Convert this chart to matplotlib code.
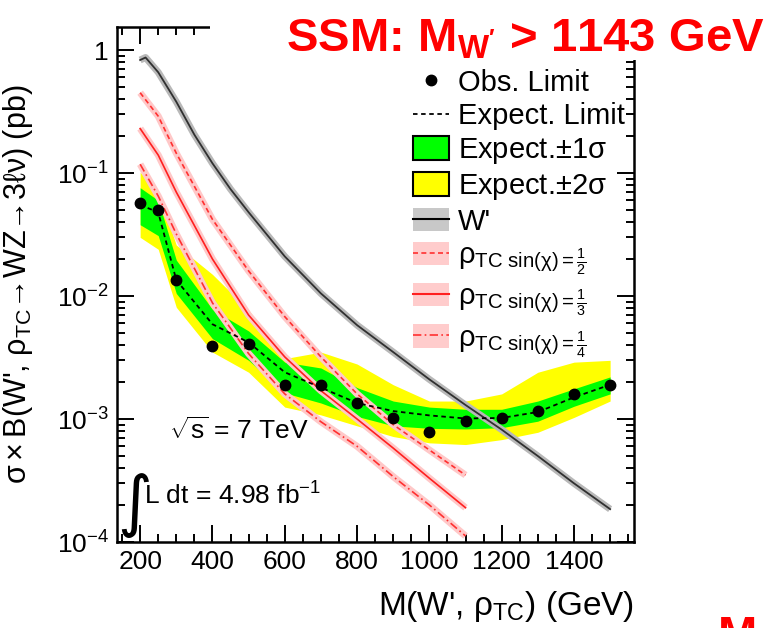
import numpy as np
import matplotlib
matplotlib.use('Agg')
import matplotlib.pyplot as plt
from matplotlib.lines import Line2D
from matplotlib.patches import Patch, Rectangle
from matplotlib.ticker import FixedLocator, MultipleLocator, NullFormatter, LogLocator

plt.rcParams['font.family'] = ['Liberation Sans', 'DejaVu Sans']
plt.rcParams['mathtext.fontset'] = 'custom'
plt.rcParams['mathtext.rm'] = 'Liberation Sans'
plt.rcParams['mathtext.it'] = 'Liberation Sans:italic'
plt.rcParams['mathtext.bf'] = 'Liberation Sans:bold'
plt.rcParams['mathtext.default'] = 'regular'

# 观测/期望上限 (pb)
mass = [200, 250, 300, 400, 500, 600, 700, 800, 900, 1000, 1100, 1200, 1300, 1400, 1500]
obs_limit = [0.057, 0.050, 0.0135, 0.0039, 0.0041, 0.0019, 0.0019, 0.00135, 0.00102,
             0.00078, 0.00097, 0.00102, 0.00116, 0.0016, 0.0019]
exp_limit = [0.055, 0.048, 0.0135, 0.0059, 0.0042, 0.0024, 0.0018, 0.00135, 0.00116,
             0.00107, 0.00101, 0.00102, 0.00114, 0.0015, 0.0019]
one_sig_lo = [0.038, 0.031, 0.0105, 0.0045, 0.0030, 0.00163, 0.00135, 0.00105, 0.00088,
              0.00084, 0.00083, 0.00085, 0.00096, 0.00127, 0.0016]
one_sig_hi = [0.076, 0.060, 0.0196, 0.0078, 0.0052, 0.0029, 0.0026, 0.0018, 0.0014,
              0.00125, 0.0012, 0.0012, 0.0014, 0.00176, 0.0022]
two_sig_lo = [0.030, 0.024, 0.0081, 0.0035, 0.0024, 0.00125, 0.00108, 0.00088, 0.00072,
              0.00064, 0.00062, 0.00068, 0.00078, 0.00103, 0.0014]
two_sig_hi = [0.102, 0.070, 0.026, 0.015, 0.0077, 0.0031, 0.0035, 0.0028, 0.0019,
              0.0014, 0.0014, 0.0016, 0.0024, 0.0029, 0.0030]

# 理论截面
wp_mass = [200, 215, 250, 300, 350, 400, 450, 500, 600, 700, 800, 900, 1000, 1100, 1200,
           1300, 1400, 1500]
wp_xsec = [0.83, 0.87, 0.66, 0.38, 0.205, 0.12, 0.074, 0.048, 0.021, 0.0105, 0.0058,
           0.0035, 0.0021, 0.0013, 0.00082, 0.00050, 0.00030, 0.000185]
rho_mass = [200, 250, 300, 400, 500, 600, 700, 800, 900, 1000, 1100]
rho_half = [0.45, 0.29, 0.145, 0.042, 0.016, 0.0068, 0.0032, 0.0016, 0.00090, 0.00056, 0.00035]
rho_third = [0.23, 0.14, 0.070, 0.020, 0.0070, 0.0032, 0.0017, 0.00100, 0.00058, 0.00033, 0.00019]
rho_quarter = [0.118, 0.065, 0.032, 0.0088, 0.0034, 0.0016, 0.00095, 0.00060, 0.00034, 0.00020, 0.000112]

fig = plt.figure(figsize=(7.71, 6.28), dpi=100)
ax = fig.add_axes([117 / 771, 86 / 628, 517 / 771, 515 / 628])

ax.fill_between(mass, two_sig_lo, two_sig_hi, color='#ffff00', lw=0, zorder=1)
ax.fill_between(mass, one_sig_lo, one_sig_hi, color='#00ff00', lw=0, zorder=2)

# 理论曲线（带误差晕）
ax.plot(wp_mass, wp_xsec, color='#b8b8b8', lw=5, solid_capstyle='butt', zorder=3)
ax.plot(wp_mass, wp_xsec, color='#303030', lw=1.3, zorder=4)
for vals, ls, lc in [(rho_half, (0, (3, 2)), '#ff3030'),
                     (rho_third, '-', '#ff2020'),
                     (rho_quarter, (0, (5, 2, 1, 2)), '#ff3030')]:
    ax.plot(rho_mass, vals, color='#ffc8c8', lw=5, solid_capstyle='butt', zorder=3)
    ax.plot(rho_mass, vals, color=lc, lw=1.2, ls=ls, zorder=4)

ax.plot(mass, exp_limit, color='black', lw=1.3, ls=(0, (2.5, 2)), zorder=5)
ax.plot(mass, obs_limit, 'o', color='black', ms=7.5, zorder=6)

ax.set_yscale('log')
ax.set_xlim(136, 1566)
ax.set_ylim(1e-4, 1.54)
ax.xaxis.set_major_locator(FixedLocator([200, 400, 600, 800, 1000, 1200, 1400]))
ax.xaxis.set_minor_locator(MultipleLocator(50))
ax.set_yticks([1e-4, 1e-3, 1e-2, 1e-1, 1])
ax.set_yticklabels([r'$10^{-4}$', r'$10^{-3}$', r'$10^{-2}$', r'$10^{-1}$', '1'])
ax.yaxis.set_minor_locator(LogLocator(base=10, subs=np.arange(2, 10), numticks=20))
ax.yaxis.set_minor_formatter(NullFormatter())
ax.tick_params(which='both', direction='in', top=True, right=True, width=1.4, labelsize=19)
ax.tick_params(which='major', length=12, pad=6)
ax.tick_params(which='minor', length=6)
for s in ax.spines.values():
    s.set_linewidth(1.8)

ax.set_ylabel("$\\sigma\\times$B(W', $\\rho_{TC}$\u2192WZ\u21923$\\ell\\nu$) (pb)", fontsize=22)
ax.yaxis.set_label_coords(-0.158, 0.5)
ax.text(1.0, -0.142, r"M(W', $\rho_{TC}$) (GeV)", transform=ax.transAxes,
        ha='right', va='baseline', fontsize=24)

ax.text(0.10, 0.20, r"$\sqrt{s}$ = 7 TeV", transform=ax.transAxes, fontsize=19)
ax.text(0.0, 0.035, "\u222b", transform=ax.transAxes, fontsize=48,
        family=['DejaVu Sans'])
ax.text(0.052, 0.072, r"L dt = 4.98 fb$^{-1}$", transform=ax.transAxes, fontsize=19)

handles = [
    Line2D([], [], marker='o', color='black', ls='none', ms=7.5),
    Line2D([], [], color='black', lw=1.3, ls=(0, (2.5, 2))),
    Patch(facecolor='#00ff00', edgecolor='black', lw=1.5),
    Patch(facecolor='#ffff00', edgecolor='black', lw=1.5),
    (Patch(facecolor='#c8c8c8', lw=0), Line2D([], [], color='black', lw=1.5)),
    (Patch(facecolor='#ffcccc', lw=0), Line2D([], [], color='#ff3030', lw=1.2, ls=(0, (3, 2)))),
    (Patch(facecolor='#ffcccc', lw=0), Line2D([], [], color='#ff2020', lw=1.5)),
    (Patch(facecolor='#ffcccc', lw=0), Line2D([], [], color='#ff3030', lw=1.2, ls=(0, (5, 2, 1, 2)))),
]
labels = [
    'Obs. Limit', 'Expect. Limit', r'Expect.$\pm$1$\sigma$', r'Expect.$\pm$2$\sigma$', "W'",
    r'$\rho_{TC\ sin(\chi)=\frac{1}{2}}$',
    r'$\rho_{TC\ sin(\chi)=\frac{1}{3}}$',
    r'$\rho_{TC\ sin(\chi)=\frac{1}{4}}$',
]
ax.legend(handles, labels, loc='upper left', bbox_to_anchor=(0.55, 0.942), frameon=False,
          fontsize=21, handlelength=1.25, handleheight=0.85, handletextpad=0.3,
          labelspacing=0.2, borderaxespad=0)

# 标题白底遮住上边框
fig.add_artist(Rectangle((210 / 771, 1 - 60 / 628), 1, 60 / 628, transform=fig.transFigure,
                         facecolor='white', edgecolor='none', zorder=5))
fig.text(0.992, 0.918, r"SSM: M$_{W'}$ > 1143 GeV", color='red', fontsize=34,
         fontweight='bold', ha='right', va='baseline', zorder=6)
fig.text(718 / 771, 1 - 615 / 628, "M", color='red', fontsize=34, fontweight='bold',
         ha='left', va='top')

fig.savefig('out.png', dpi=100)
